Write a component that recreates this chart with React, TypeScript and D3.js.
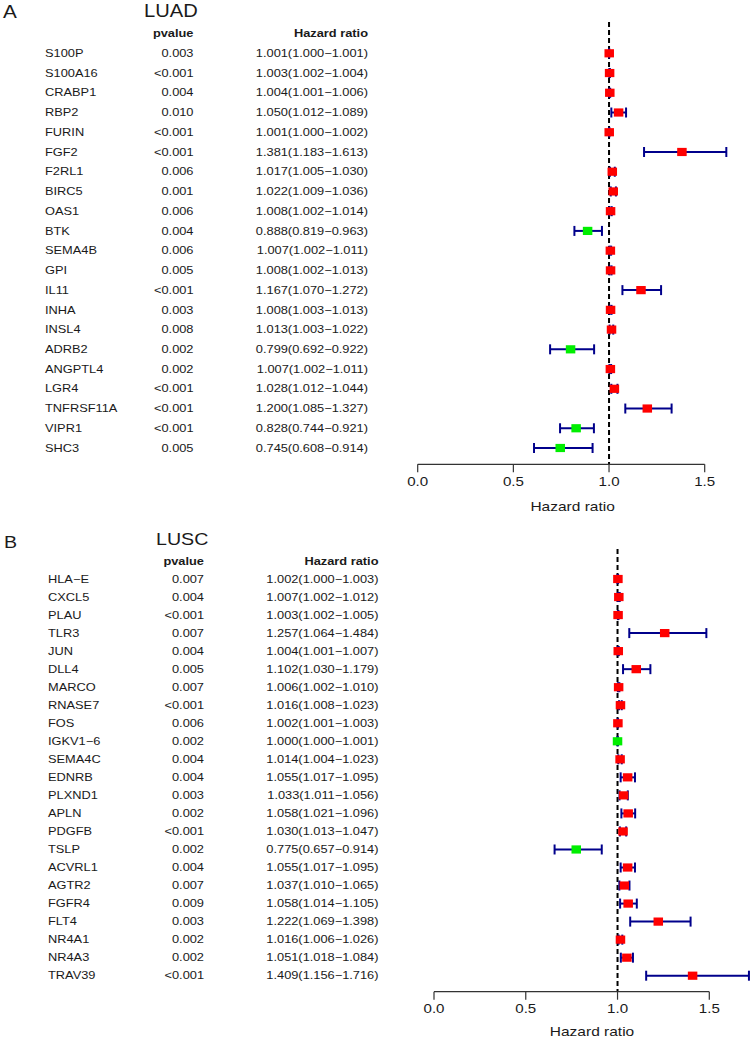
import React from "react";
import * as d3 from "d3";

// ---------- Data: LUAD ----------
const luadGenes = ["S100P","S100A16","CRABP1","RBP2","FURIN","FGF2","F2RL1","BIRC5","OAS1","BTK","SEMA4B","GPI","IL11","INHA","INSL4","ADRB2","ANGPTL4","LGR4","TNFRSF11A","VIPR1","SHC3"];
const luadP = ["0.003","<0.001","0.004","0.010","<0.001","<0.001","0.006","0.001","0.006","0.004","0.006","0.005","<0.001","0.003","0.008","0.002","0.002","<0.001","<0.001","<0.001","0.005"];
const luadHR = [1.001,1.003,1.004,1.050,1.001,1.381,1.017,1.022,1.008,0.888,1.007,1.008,1.167,1.008,1.013,0.799,1.007,1.028,1.200,0.828,0.745];
const luadLow = [1.000,1.002,1.001,1.012,1.000,1.183,1.005,1.009,1.002,0.819,1.002,1.002,1.070,1.003,1.003,0.692,1.002,1.012,1.085,0.744,0.608];
const luadHigh = [1.001,1.004,1.006,1.089,1.002,1.613,1.030,1.036,1.014,0.963,1.011,1.013,1.272,1.013,1.022,0.922,1.011,1.044,1.327,0.921,0.914];

// ---------- Data: LUSC ----------
const luscGenes = ["HLA-E","CXCL5","PLAU","TLR3","JUN","DLL4","MARCO","RNASE7","FOS","IGKV1-6","SEMA4C","EDNRB","PLXND1","APLN","PDGFB","TSLP","ACVRL1","AGTR2","FGFR4","FLT4","NR4A1","NR4A3","TRAV39"];
const luscP = ["0.007","0.004","<0.001","0.007","0.004","0.005","0.007","<0.001","0.006","0.002","0.004","0.004","0.003","0.002","<0.001","0.002","0.004","0.007","0.009","0.003","0.002","0.002","<0.001"];
const luscHR = [1.002,1.007,1.003,1.257,1.004,1.102,1.006,1.016,1.002,1.000,1.014,1.055,1.033,1.058,1.030,0.775,1.055,1.037,1.058,1.222,1.016,1.051,1.409];
const luscLow = [1.000,1.002,1.002,1.064,1.001,1.030,1.002,1.008,1.001,1.000,1.004,1.017,1.011,1.021,1.013,0.657,1.017,1.010,1.014,1.069,1.006,1.018,1.156];
const luscHigh = [1.003,1.012,1.005,1.484,1.007,1.179,1.010,1.023,1.003,1.001,1.023,1.095,1.056,1.096,1.047,0.914,1.095,1.065,1.105,1.398,1.026,1.084,1.716];

const xTicks = [0, 0.5, 1.0, 1.5];

const FONT = "'Liberation Sans', Arial, Helvetica, sans-serif";
const TEXT = "#1a1a1a";
const BAR = "#00008B";

function T({ x, y, sx = 1.21, size = 10.6, anchor = "start", weight = "normal", children }: any) {
  return (
    <text
      transform={`translate(${x},${y}) scale(${sx},1)`}
      fontSize={size}
      fontFamily={FONT}
      fontWeight={weight}
      textAnchor={anchor}
      fill={TEXT}
    >
      {children}
    </text>
  );
}

const fmt = (v: number) => v.toFixed(3);
const minus = (s: string) => s.replace(/-/g, "\u2212");

function Panel({ L, genes, pv, hr, lo, hi }: any) {
  const x = d3.scaleLinear().domain([0, 1.5]).range([L.xLeft, L.xRight]);
  const y = d3.scaleLinear().domain([0, genes.length - 1]).range([L.row0, L.row1]);
  const ms = 9.5, mh = 8.2, cap = 5;
  return (
    <g>
      <T x={L.letterX} y={L.letterY} size={L.letterSize} sx={L.titleSx}>{L.letter}</T>
      <T x={L.titleX} y={L.titleY} size={L.titleSize} sx={L.titleSx}>{L.title}</T>
      <T x={L.pRight} y={L.headerY} anchor="end" weight="bold">pvalue</T>
      <T x={L.hrRight} y={L.headerY} anchor="end" weight="bold">Hazard ratio</T>
      {genes.map((g: string, i: number) => (
        <g key={g}>
          <T x={L.geneX} y={y(i) + 3.7}>{minus(g)}</T>
          <T x={L.pRight} y={y(i) + 3.7} anchor="end">{pv[i]}</T>
          <T x={L.hrRight} y={y(i) + 3.7} anchor="end">
            {`${fmt(hr[i])}(${fmt(lo[i])}\u2212${fmt(hi[i])})`}
          </T>
        </g>
      ))}
      {/* reference line */}
      <line x1={x(1)} x2={x(1)} y1={L.refTop} y2={L.axisY} stroke="#000" strokeWidth={2} strokeDasharray="5,3" />
      {/* error bars */}
      {genes.map((g: string, i: number) => (
        <g key={"e" + g} stroke={BAR} strokeWidth={2}>
          <line x1={x(lo[i])} x2={x(hi[i])} y1={y(i)} y2={y(i)} />
          <line x1={x(lo[i])} x2={x(lo[i])} y1={y(i) - cap} y2={y(i) + cap} />
          <line x1={x(hi[i])} x2={x(hi[i])} y1={y(i) - cap} y2={y(i) + cap} />
        </g>
      ))}
      {genes.map((g: string, i: number) => (
        <rect key={"m" + g} x={x(hr[i]) - ms / 2} y={y(i) - mh / 2} width={ms} height={mh}
          fill={hr[i] > 1 ? "#FF0000" : "#00EE00"} />
      ))}
      {/* axis */}
      <line x1={x(0)} x2={x(1.5)} y1={L.axisY} y2={L.axisY} stroke="#333" strokeWidth={1.2} />
      {xTicks.map((t) => (
        <g key={t}>
          <line x1={x(t)} x2={x(t)} y1={L.axisY} y2={L.axisY + 8} stroke="#333" strokeWidth={1.2} />
          <T x={x(t)} y={L.axisY + 21.5} anchor="middle" size={12} sx={1.26}>{t.toFixed(1)}</T>
        </g>
      ))}
      <T x={L.axisTitleX} y={L.axisTitleY} anchor="middle" size={12.5} sx={1.24}>Hazard ratio</T>
    </g>
  );
}

const layoutA = {
  letter: "A", title: "LUAD", letterX: 3, letterY: 18.3, letterSize: 18.5, titleX: 144, titleY: 17, titleSize: 18, titleSx: 1.12,
  headerY: 36.7, geneX: 45, pRight: 193.5, hrRight: 368, row0: 53.3, row1: 448,
  xLeft: 417.7, xRight: 704.7, refTop: 22, axisY: 464.3, axisTitleX: 572.6, axisTitleY: 510.7,
};
const layoutB = {
  letter: "B", title: "LUSC", letterX: 4, letterY: 548.3, letterSize: 16.5, titleX: 156, titleY: 545, titleSize: 16.5, titleSx: 1.19,
  headerY: 564.5, geneX: 48, pRight: 204, hrRight: 378.5, row0: 579, row1: 975.7,
  xLeft: 434, xRight: 709.3, refTop: 549, axisY: 991.7, axisTitleX: 592, axisTitleY: 1035.5,
};

export default function App() {
  return (
    <svg width={751} height={1040} style={{ position: "absolute", left: 0, top: 0, background: "#fff" }}>
      <rect width={751} height={1040} fill="#fff" />
      <Panel L={layoutA} genes={luadGenes} pv={luadP} hr={luadHR} lo={luadLow} hi={luadHigh} />
      <Panel L={layoutB} genes={luscGenes} pv={luscP} hr={luscHR} lo={luscLow} hi={luscHigh} />
    </svg>
  );
}
